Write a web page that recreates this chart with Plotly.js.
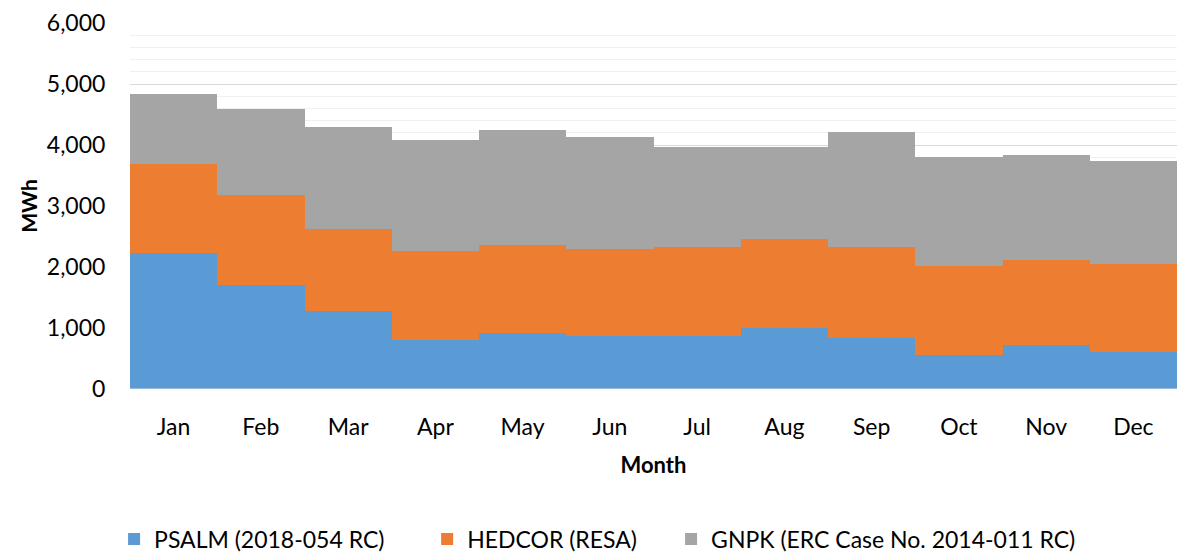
<!DOCTYPE html>
<html>
<head>
<meta charset="utf-8">
<script src="https://cdn.plot.ly/plotly-3.0.1.min.js"></script>
<style>html,body{margin:0;padding:0;background:#fff;}#chart{width:1177px;height:554px;}</style>
</head>
<body>
<div id="chart"></div>
<script>
const months = ["Jan","Feb","Mar","Apr","May","Jun","Jul","Aug","Sep","Oct","Nov","Dec"];
const psalm  = [2223,1698,1278,797,922,863,863,999,830,552,716,611];
const hedcor = [1467,1475,1338,1458,1442,1430,1458,1464,1496,1458,1402,1441];
const gnpk   = [1153,1425,1671,1819,1884,1846,1654,1512,1889,1790,1710,1678];
const names  = ["PSALM (2018-054 RC)","HEDCOR (RESA)","GNPK (ERC Case No. 2014-011 RC)"];
const colors = ["#5B9BD5","#ED7D31","#A5A5A5"];
const series = [psalm, hedcor, gnpk];
const legendIds = ["legend","legend2","legend3"];

const FONT = "Lato, 'Open Sans', sans-serif";

const traces = series.map((vals, i) => ({
  type: "bar",
  x: months,
  y: vals,
  name: names[i],
  legend: legendIds[i],
  marker: {color: colors[i], line: {width: 0}},
  hoverinfo: "x+y+name"
}));

const legendBase = {
  orientation: "h",
  yanchor: "middle",
  y: -0.41,
  xanchor: "left",
  font: {family: FONT, size: 23, color: "#000"},
  bgcolor: "rgba(0,0,0,0)",
  borderwidth: 0,
  itemwidth: 30
};

const layout = {
  width: 1177,
  height: 554,
  margin: {l: 130, r: 0, t: 23, b: 165, autoexpand: false},
  paper_bgcolor: "#fff",
  plot_bgcolor: "#fff",
  barmode: "stack",
  bargap: 0,
  showlegend: true,
  font: {family: FONT, color: "#000"},
  xaxis: {
    type: "category",
    automargin: false,
    showgrid: false,
    zeroline: false,
    showline: false,
    ticks: "outside",
    ticklen: 17,
    tickcolor: "rgba(0,0,0,0)",
    tickfont: {family: FONT, size: 23, color: "#000"},
    title: {text: "<b>Month</b>", font: {family: FONT, size: 22, color: "#000"}, standoff: 19}
  },
  yaxis: {
    automargin: false,
    range: [0, 6000],
    tickvals: [0,1000,2000,3000,4000,5000,6000],
    tickformat: ",d",
    showgrid: true,
    gridcolor: "#D9D9D9",
    gridwidth: 1,
    minor: {dtick: 200, showgrid: true, gridcolor: "#F0F0F0", gridwidth: 1},
    zeroline: false,
    showline: false,
    ticks: "outside",
    ticklen: 19,
    tickcolor: "rgba(0,0,0,0)",
    tickfont: {family: FONT, size: 23, color: "#000"},
    title: {text: "<b>MWh</b>", font: {family: FONT, size: 21, color: "#000"}, standoff: 3}
  },
  shapes: [{
    type: "line", xref: "paper", yref: "y", x0: 0, x1: 1, y0: 0, y1: 0,
    line: {color: "#D9D9D9", width: 1}
  }],
  legend:  Object.assign({}, legendBase, {x: -0.0152}),
  legend2: Object.assign({}, legendBase, {x: 0.2838}),
  legend3: Object.assign({}, legendBase, {x: 0.5168})
};

Plotly.newPlot("chart", traces, layout, {displayModeBar: false, staticPlot: true});
</script>
</body>
</html>
